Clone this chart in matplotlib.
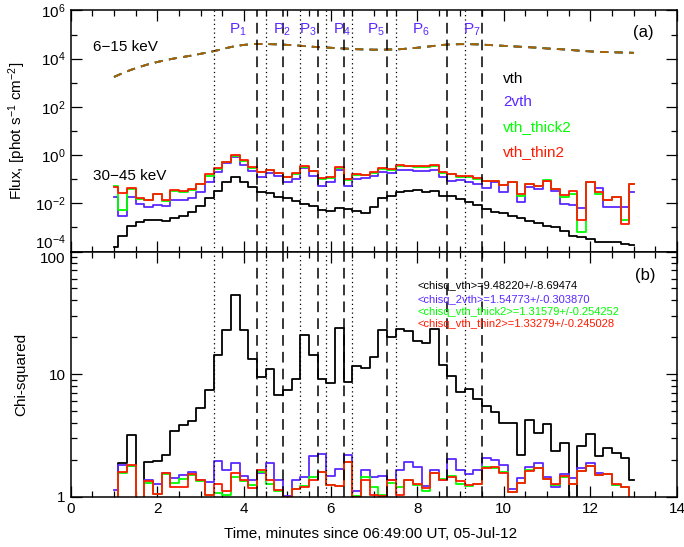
import numpy as np
import matplotlib
matplotlib.use("Agg")
import matplotlib.pyplot as plt
from matplotlib.ticker import FixedLocator, NullFormatter, MultipleLocator

plt.rcParams['font.family'] = ['Liberation Sans', 'DejaVu Sans']
plt.rcParams['mathtext.default'] = 'regular'

# time of each 12 s interval, minutes since 06:49:00 UT
t = np.linspace(1.0, 13.0, 61)

# 6-15 keV model flux (log10), all four fits overlap here
lo_flux = [3.24, 3.40, 3.54, 3.66, 3.77, 3.86, 3.94, 4.01, 4.07, 4.13,
           4.20, 4.27, 4.35, 4.44, 4.52, 4.57, 4.60, 4.61, 4.60, 4.59,
           4.57, 4.55, 4.52, 4.49, 4.47, 4.45, 4.43, 4.41, 4.39, 4.38,
           4.37, 4.37, 4.38, 4.39, 4.42, 4.45, 4.49, 4.53, 4.57, 4.59,
           4.60, 4.60, 4.59, 4.57, 4.55, 4.53, 4.51, 4.49, 4.47, 4.45,
           4.42, 4.40, 4.38, 4.35, 4.32, 4.30, 4.28, 4.27, 4.26, 4.25, 4.24]

# 30-45 keV model flux (log10)
hi_vth = [-3.82, -3.34, -2.93, -2.79, -2.68, -2.68, -2.72, -2.61, -2.51, -2.37,
          -2.10, -1.79, -1.48, -1.13, -0.92, -1.13, -1.34, -1.52, -1.59, -1.73,
          -1.79, -1.89, -2.05, -2.10, -2.28, -2.31, -2.19, -2.24, -2.31, -2.40,
          -2.17, -1.80, -1.70, -1.55, -1.48, -1.44, -1.52, -1.48, -1.69, -1.71,
          -1.82, -1.96, -2.07, -2.24, -2.35, -2.40, -2.51, -2.61, -2.72, -2.82,
          -2.93, -2.99, -3.13, -3.34, -3.41, -3.48, -3.59, -3.59, -3.62, -3.69, -3.75]
hi_2vth = [-1.75, -2.54, -1.75, -2.03, -2.14, -2.06, -2.10, -1.86, -1.85, -1.78,
           -1.52, -1.13, -0.72, -0.34, -0.10, -0.41, -0.65, -0.90, -0.76, -0.88,
           -1.10, -0.99, -0.55, -0.86, -1.27, -1.13, -0.62, -1.27, -0.99, -0.97,
           -0.86, -0.72, -0.76, -0.61, -0.61, -0.65, -0.65, -0.61, -0.92, -1.06,
           -1.05, -1.13, -1.20, -1.38, -1.13, -1.52, -1.13, -1.93, -1.34, -1.41,
           -1.06, -1.48, -2.03, -2.07, -2.21, -1.10, -1.38, -2.15, -2.15, -2.15, -1.55]
hi_thick2 = [-1.27, -2.27, -1.40, -1.82, -1.88, -1.62, -1.90, -1.50, -1.52, -1.46,
             -1.22, -0.86, -0.56, -0.30, -0.02, -0.25, -0.53, -0.72, -0.63, -0.76,
             -0.93, -0.79, -0.49, -0.66, -1.00, -0.95, -0.54, -1.02, -0.83, -0.84,
             -0.74, -0.56, -0.60, -0.46, -0.47, -0.50, -0.48, -0.45, -0.76, -0.80,
             -0.90, -0.92, -0.99, -1.06, -1.08, -1.25, -1.10, -1.70, -1.22, -1.30,
             -1.03, -1.42, -1.72, -1.62, -3.20, -1.10, -1.60, -1.88, -1.75, -2.70, -1.20]
hi_thin2 = [-1.32, -1.57, -1.37, -1.80, -1.87, -1.60, -1.85, -1.46, -1.49, -1.42,
            -1.18, -0.80, -0.52, -0.27, 0.00, -0.22, -0.50, -0.70, -0.61, -0.74,
            -0.90, -0.76, -0.47, -0.65, -0.96, -0.92, -0.51, -0.99, -0.80, -0.82,
            -0.72, -0.53, -0.58, -0.42, -0.44, -0.46, -0.44, -0.41, -0.72, -0.79,
            -0.86, -0.88, -0.97, -1.06, -1.06, -1.24, -1.10, -1.60, -1.21, -1.30,
            -1.06, -1.40, -1.67, -1.47, -2.70, -1.10, -1.55, -1.87, -1.75, -2.84, -1.20]

# reduced chi-squared of each fit
chi_vth = [0.90, 1.87, 3.20, 0.95, 1.93, 1.96, 2.18, 3.43, 3.83, 4.15,
           5.24, 7.38, 14.4, 22.7, 44.4, 22.7, 13.2, 9.5, 11.1, 6.7,
           7.4, 9.1, 20.9, 14.4, 9.2, 8.5, 23.9, 8.7, 11.6, 11.3,
           13.8, 22.7, 20.0, 23.2, 22.3, 18.6, 18.0, 23.2, 11.9, 9.6,
           7.15, 7.6, 6.3, 5.47, 4.92, 3.96, 3.96, 2.18, 4.26, 3.32,
           3.91, 2.38, 2.72, 0.90, 2.59, 3.24, 2.14, 2.48, 2.28, 2.05, 1.37]
chi_2vth = [1.13, 1.81, 1.78, 0.95, 1.37, 1.26, 1.55, 1.43, 1.50, 1.58,
            1.38, 1.31, 1.95, 1.65, 1.90, 1.48, 1.38, 1.55, 1.87, 1.37,
            1.01, 1.37, 1.44, 2.14, 2.25, 1.47, 1.68, 2.18, 1.12, 1.65,
            1.44, 1.47, 1.38, 1.65, 1.93, 1.75, 1.23, 1.65, 1.38, 2.03,
            1.65, 1.52, 1.65, 2.08, 1.98, 1.81, 1.15, 1.41, 1.73, 1.87,
            1.44, 1.21, 1.52, 1.42, 1.70, 1.87, 1.55, 1.52, 1.25, 1.20, 0.95]
chi_thick2 = [0.90, 1.55, 1.78, 0.90, 1.30, 1.05, 1.52, 1.30, 1.40, 1.50,
              1.35, 1.03, 1.07, 1.03, 1.45, 1.35, 1.25, 1.60, 1.28, 1.12,
              0.99, 1.15, 1.23, 1.45, 1.60, 1.25, 1.22, 1.93, 1.02, 1.45,
              1.20, 1.03, 1.30, 1.20, 1.37, 1.25, 1.12, 1.56, 1.40, 1.47,
              1.28, 1.22, 1.26, 1.75, 1.72, 1.58, 1.10, 1.30, 1.65, 1.70,
              1.40, 1.25, 1.45, 1.26, 1.62, 1.78, 1.50, 1.52, 1.25, 1.20, 0.90]
chi_thin2 = [0.90, 1.60, 1.81, 0.90, 1.33, 1.06, 1.55, 1.20, 1.20, 1.52,
             1.37, 1.03, 1.26, 1.12, 1.56, 1.38, 1.17, 1.65, 1.37, 1.13,
             0.99, 1.15, 1.20, 1.38, 1.60, 1.25, 1.23, 1.93, 0.99, 1.38,
             1.03, 1.01, 1.37, 1.03, 1.37, 1.28, 1.17, 1.56, 1.37, 1.45,
             1.35, 1.25, 1.26, 1.72, 1.75, 1.55, 1.10, 1.30, 1.62, 1.72,
             1.40, 1.26, 1.48, 1.27, 1.62, 1.78, 1.50, 1.52, 1.26, 1.20, 0.90]

model_names = ['vth', '2vth', 'vth_thick2', 'vth_thin2']
model_colors = ['black', '#5a28ff', '#00ff00', '#ff1a00']
chi_text = ['<chisq_vth>=9.48220+/-8.69474',
            '<chisq_2vth>=1.54773+/-0.303870',
            '<chisq_vth_thick2>=1.31579+/-0.254252',
            '<chisq_vth_thin2>=1.33279+/-0.245028']

# peak intervals: start (dotted) and end (dashed) times
peak_start = [3.3, 4.5, 5.3, 5.9, 6.5, 7.5, 9.1]
peak_end = [4.3, 4.9, 5.7, 6.3, 7.3, 8.7, 9.5]
peak_label_x = [3.66, 4.67, 5.28, 6.06, 6.85, 7.87, 9.06]

fig = plt.figure(figsize=(6.84, 5.47), dpi=100)
ax1 = fig.add_axes([0.1034, 0.5402, 0.8864, 0.4408])
ax2 = fig.add_axes([0.1034, 0.0920, 0.8864, 0.4482])

hi_sets = [hi_vth, hi_2vth, hi_thick2, hi_thin2]
chi_sets = [chi_vth, chi_2vth, chi_thick2, chi_thin2]

# top panel: fluxes (thin2 drawn half transparent over the others)
for i, c in enumerate(model_colors):
    a = 0.7 if i == 3 else 1.0
    ax1.plot(t, np.power(10.0, lo_flux), color=c, lw=1.3, ls=(0, (4.5, 3.5)), alpha=a)
for i, c in enumerate(model_colors):
    ax1.step(t, np.power(10.0, hi_sets[i]), where='mid', color=c, lw=1.3)

ax1.set_yscale('log')
ax1.set_ylim(1e-4, 1e6)
ax1.set_xlim(0, 14)
ax1.yaxis.set_major_locator(FixedLocator([1e-4, 1e-2, 1, 1e2, 1e4, 1e6]))
ax1.set_yticklabels([r'$10^{-4}$', r'$10^{-2}$', r'$10^{0}$', r'$10^{2}$',
                     r'$10^{4}$', r'$10^{6}$'])
ax1.get_yticklabels()[0].set_va('bottom')
ax1.yaxis.set_minor_locator(FixedLocator([1e-3, 1e-1, 1e1, 1e3, 1e5]))
ax1.yaxis.set_minor_formatter(NullFormatter())
ax1.set_ylabel('Flux, [phot s$^{-1}$ cm$^{-2}$]', fontsize=11)
ax1.yaxis.set_label_coords(-0.07, 0.5)
ax1.tick_params(labelbottom=False)

ax1.text(0.037, 0.85, '6\u221215 keV', transform=ax1.transAxes,
         fontsize=11, va='center')
ax1.text(0.037, 0.315, '30\u221245 keV', transform=ax1.transAxes,
         fontsize=11, va='center')
ax1.text(0.927, 0.907, '(a)', transform=ax1.transAxes, fontsize=12, va='center')
for name, c, yy in zip(model_names, model_colors, [0.715, 0.622, 0.518, 0.414]):
    ax1.text(9.98, yy, name, color=c, fontsize=11, va='center',
             transform=ax1.get_xaxis_transform())
for k, px in enumerate(peak_label_x):
    ax1.text(px, 0.919, 'P$_{%d}$' % (k + 1), color='#5a28ff', fontsize=11,
             va='center', transform=ax1.get_xaxis_transform())

# bottom panel: chi-squared
for i, c in enumerate(model_colors):
    ax2.step(t, chi_sets[i], where='mid', color=c, lw=1.3)

ax2.set_yscale('log')
ax2.set_ylim(1, 100)
ax2.set_xlim(0, 14)
ax2.yaxis.set_major_locator(FixedLocator([1, 10, 100]))
ax2.set_yticklabels(['1', '10', '100'])
ax2.get_yticklabels()[2].set_va('top')
ax2.yaxis.set_minor_locator(FixedLocator([2, 3, 4, 5, 6, 7, 8, 9,
                                          20, 30, 40, 50, 60, 70, 80, 90]))
ax2.yaxis.set_minor_formatter(NullFormatter())
ax2.set_ylabel('Chi-squared', fontsize=11)
ax2.yaxis.set_label_coords(-0.07, 0.5)
ax2.set_xlabel('Time, minutes since 06:49:00 UT, 05-Jul-12', fontsize=11)
ax2.xaxis.set_label_coords(0.494, -0.125)
ax2.text(0.93, 0.904, '(b)', transform=ax2.transAxes, fontsize=12, va='center')
for s, c, yy in zip(chi_text, model_colors, [0.859, 0.801, 0.752, 0.703]):
    ax2.text(8.0, yy, s, color=c, fontsize=8, va='center',
             transform=ax2.get_xaxis_transform())

for ax in (ax1, ax2):
    for x0 in peak_start:
        ax.axvline(x0, color='black', lw=0.9, ls=(0, (1, 2.5)))
    for x1 in peak_end:
        ax.axvline(x1, color='black', lw=1.1, ls=(0, (7, 4)))
    ax.xaxis.set_major_locator(MultipleLocator(2))
    ax.xaxis.set_minor_locator(MultipleLocator(0.5))
    ax.tick_params(which='both', direction='in', top=True, right=True,
                   labelsize=11, width=0.9)
    ax.tick_params(which='major', length=8)
    ax.tick_params(which='minor', length=4)
    for sp in ax.spines.values():
        sp.set_linewidth(1.1)

fig.savefig('out.png', dpi=100)
